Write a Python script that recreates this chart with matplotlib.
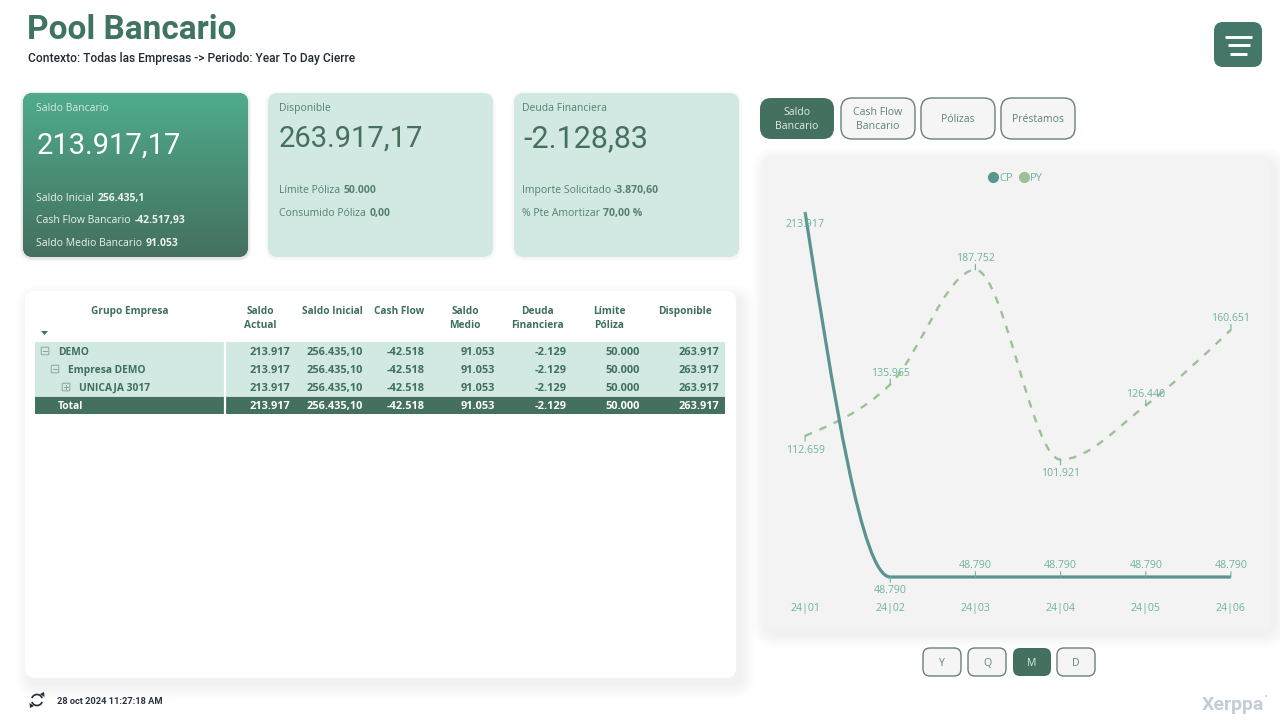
"""
plot.py
Recreates the "Pool Bancario" dashboard page.
The whole page is drawn on one axes in pixel coordinates, the line chart
has its own axes on top of the card.
"""

import numpy as np
import matplotlib
matplotlib.use("Agg")
import matplotlib.pyplot as plt
from matplotlib.colors import LinearSegmentedColormap
from matplotlib.lines import Line2D
from matplotlib.patches import Arc, Circle, FancyBboxPatch, PathPatch, Polygon
from matplotlib.path import Path

# ---------------------------------------------------------------- data
months = ["24|01", "24|02", "24|03", "24|04", "24|05", "24|06"]
cp_values = [213917, 48790, 48790, 48790, 48790, 48790]
py_values = [112659, 135965, 187752, 101921, 126440, 160651]

table_columns = [["Saldo", "Actual"], ["Saldo Inicial"], ["Cash Flow"], ["Saldo", "Medio"],
                 ["Deuda", "Financiera"], ["Límite", "Póliza"], ["Disponible"]]
table_rows = ["DEMO", "Empresa DEMO", "UNICAJA 3017", "Total"]
table_values = ["213.917", "256.435,10", "-42.518", "91.053", "-2.129", "50.000", "263.917"]

tabs = [["Saldo", "Bancario"], ["Cash Flow", "Bancario"], ["Pólizas"], ["Préstamos"]]
periods = ["Y", "Q", "M", "D"]

# ---------------------------------------------------------------- styles
DARK = "#44705F"
PALE = "#D2E8E2"
CP_COLOR = "#5A9490"
PY_COLOR = "#9DC097"
LABEL = "#6FB39E"
CARD_TEXT = "#55806F"
BODY = "Open Sans"
DIN = "Roboto"

plt.rcParams["font.family"] = [BODY, "DejaVu Sans"]

fig = plt.figure(figsize=(12.8, 7.2), dpi=100, facecolor="white")
page = fig.add_axes([0, 0, 1, 1])
page.set_xlim(0, 1280)
page.set_ylim(720, 0)
page.axis("off")


def box(x0, y0, x1, y1, r=10, fc="white", ec="none", lw=0, z=2):
    patch = FancyBboxPatch((x0 + r, y0 + r), x1 - x0 - 2 * r, y1 - y0 - 2 * r,
                           boxstyle=f"round,pad={r},rounding_size={r}",
                           fc=fc, ec=ec, lw=lw, zorder=z)
    page.add_patch(patch)
    return patch


def shadow(x0, y0, x1, y1, r, dx, dy, size, alpha):
    # soft shadow out of stacked transparent boxes
    for i in range(size, 0, -1):
        box(x0 + dx - i, y0 + dy - i, x1 + dx + i, y1 + dy + i, r=r + i,
            fc=(0, 0, 0, alpha), z=1)


def text(x, y, s, size, color, weight="normal", ha="left", family=BODY, z=5):
    # y is the middle of the digits, baseline keeps commas from moving the text
    base = y + size * 100 / 72 * 0.36
    return page.text(x, base, s, fontsize=size, color=color, fontweight=weight, ha=ha,
                     va="baseline", family=family, zorder=z)


def label_value(x, y, label, value, color, size=7.5):
    # plain label followed by the bold value
    first = text(x, y, label + " ", size, color)
    end = first.get_window_extent(fig.canvas.get_renderer()).x1
    text(end + 0.5, y, value, size, color, weight="bold")


def button(x0, y0, x1, y1, lines, active, size=7.6, r=8):
    if active:
        box(x0, y0, x1, y1, r=r, fc=DARK)
    else:
        box(x0, y0, x1, y1, r=r, fc="#F4F5F4", ec="#6B8079", lw=1.0)
    top = (y0 + y1) / 2 - 7 * (len(lines) - 1)
    for i, line in enumerate(lines):
        text((x0 + x1) / 2, top + 14 * i, line, size, "#DDEBE6" if active else "#5F8577", ha="center")


def monotone_path(xs, ys):
    # bezier path through the points, same shape as a monotone-x line
    xs = np.asarray(xs, float)
    ys = np.asarray(ys, float)
    steps = np.diff(xs)
    slopes = np.diff(ys) / steps
    tangents = np.zeros(len(xs))
    for i in range(1, len(xs) - 1):
        a, b = slopes[i - 1], slopes[i]
        p = (a * steps[i] + b * steps[i - 1]) / (steps[i - 1] + steps[i])
        tangents[i] = (np.sign(a) + np.sign(b)) * min(abs(a), abs(b), 0.5 * abs(p))
    tangents[0] = (3 * slopes[0] - tangents[1]) / 2
    tangents[-1] = (3 * slopes[-1] - tangents[-2]) / 2
    verts = [(xs[0], ys[0])]
    codes = [Path.MOVETO]
    for i in range(len(xs) - 1):
        h = steps[i] / 3
        verts += [(xs[i] + h, ys[i] + h * tangents[i]),
                  (xs[i + 1] - h, ys[i + 1] - h * tangents[i + 1]),
                  (xs[i + 1], ys[i + 1])]
        codes += [Path.CURVE4] * 3
    return Path(verts, codes)


# ---------------------------------------------------------------- header
text(27, 27, "Pool Bancario", 24, "#3F7463", weight="bold", family=DIN)
text(28, 58, "Contexto: Todas las Empresas -> Periodo: Year To Day Cierre", 8.65, "#1F2B33",
     weight="medium", family=DIN)

box(1214, 22, 1262, 67, r=9, fc="#44776A")
for half, yy in zip([13.5, 11, 8.7], [37, 45, 54]):
    page.plot([1238.5 - half, 1238.5 + half], [yy, yy], color="white", lw=2.1,
              solid_capstyle="butt", zorder=5)

# ---------------------------------------------------------------- KPI cards
shadow(23, 93, 248, 257, 10, 0, 1, 3, 0.035)
shadow(268, 93, 493, 257, 10, 0, 1, 3, 0.012)
shadow(514, 93, 739, 257, 10, 0, 1, 3, 0.012)

green_card = box(23, 93, 248, 257, fc=DARK)
gradient = LinearSegmentedColormap.from_list("card", ["#4FAB8C", "#44705F"])
image = page.imshow(np.linspace(0, 1, 256).reshape(-1, 1), cmap=gradient, aspect="auto",
                    extent=(23, 248, 257, 93), zorder=3)
image.set_clip_path(green_card)
page.set_xlim(0, 1280)
page.set_ylim(720, 0)

text(36.5, 107.5, "Saldo Bancario", 7.5, "#D5EBE3")
text(37, 143, "213.917,17", 21, "white", family=DIN)
label_value(36.5, 197, "Saldo Inicial", "256.435,1", "#EAF3EF")
label_value(36.5, 219.5, "Cash Flow Bancario", "-42.517,93", "#EAF3EF")
label_value(36.5, 242, "Saldo Medio Bancario", "91.053", "#EAF3EF")

box(268, 93, 493, 257, fc=PALE)
text(279, 107.5, "Disponible", 7.5, CARD_TEXT)
text(279, 136, "263.917,17", 21, "#44705F", family=DIN)
label_value(279, 189.5, "Límite Póliza", "50.000", CARD_TEXT)
label_value(279, 212.5, "Consumido Póliza", "0,00", CARD_TEXT)

box(514, 93, 739, 257, fc=PALE)
text(521.5, 107.5, "Deuda Financiera", 7.5, CARD_TEXT)
text(523, 136, "-2.128,83", 22, "#44705F", family=DIN)
label_value(521.5, 189.5, "Importe Solicitado", "-3.870,60", CARD_TEXT)
label_value(521.5, 212.5, "% Pte Amortizar", "70,00 %", CARD_TEXT)

# ---------------------------------------------------------------- table
shadow(25, 291, 736, 678, 10, 5, 7, 14, 0.0035)
box(25, 291, 736, 678, fc="white", z=2)

right_edges = [290, 363, 425, 495, 567, 640, 719]
header_centers = [260, 332, 399, 465, 537, 609, 685]
header_color = "#3F6F5E"
text(130, 310, "Grupo Empresa", 7.3, header_color, weight="bold", ha="center")
for center, lines in zip(header_centers, table_columns):
    for i, line in enumerate(lines):
        text(center, 310 + 14 * i, line, 7.3, header_color, weight="bold", ha="center")
page.add_patch(Polygon([(41, 331), (48, 331), (44.5, 335)], fc="#3F6F5E", zorder=5))

row_ys = [351, 369, 387, 405]
indents = [58, 68, 79, 58]
page.fill_between([35, 725], 342, 396, color=PALE, lw=0, zorder=3)
page.fill_between([35, 725], 396, 414, color=DARK, lw=0, zorder=3)
page.plot([225, 225], [342, 414], color="white", lw=1.6, zorder=4)
page.plot([35, 725], [395.6, 395.6], color="#E9F3F0", lw=0.6, zorder=4)
for name, yy, indent in zip(table_rows, row_ys, indents):
    color = "white" if name == "Total" else header_color
    text(indent, yy, name, 7.4, color, weight="bold")
    if name != "Total":
        bx = indent - 13
        page.add_patch(FancyBboxPatch((bx - 3.2, yy - 3.2), 6.4, 6.4, boxstyle="round,pad=0.6,rounding_size=1",
                                      fc="none", ec="#8AA69B", lw=0.7, zorder=5))
        page.plot([bx - 2, bx + 2], [yy, yy], color="#8AA69B", lw=0.7, zorder=5)
        if name == "UNICAJA 3017":
            page.plot([bx, bx], [yy - 2, yy + 2], color="#8AA69B", lw=0.7, zorder=5)
    for edge, value in zip(right_edges, table_values):
        text(edge, yy, value, 7.9, color, weight="bold", ha="right")

# ---------------------------------------------------------------- tabs and period buttons
tab_edges = [(760, 834), (841, 915), (921, 995), (1001, 1075)]
for i, ((x0, x1), label) in enumerate(zip(tab_edges, tabs)):
    button(x0, 98, x1, 139, label, i == 0, r=11)

period_edges = [(923, 961), (968, 1006), (1013, 1051), (1057, 1095)]
for (x0, x1), label in zip(period_edges, periods):
    button(x0, 648, x1, 676, [label], label == "M", r=7)

# ---------------------------------------------------------------- line chart
shadow(763, 155, 1271, 628, 10, 3, 6, 14, 0.003)
box(763, 155, 1271, 628, fc="#F3F3F3", z=2)

# axes covers the card, limits chosen so 24|01 sits at x=805 and one month is 85 px
chart = fig.add_axes([763 / 1280, 1 - 628 / 720, 508 / 1280, 473 / 720])
chart.patch.set_alpha(0)
chart.set_xlim(-42 / 85, 465 / 85)
chart.set_ylim(25713, 239740)
for side in chart.spines.values():
    side.set_visible(False)
chart.set_yticks([])
chart.set_xticks(range(len(months)), months)
chart.tick_params(axis="x", length=0, pad=-18, labelsize=7.6, labelcolor=LABEL)

positions = list(range(len(months)))
chart.add_patch(PathPatch(monotone_path(positions, py_values), fc="none", ec=PY_COLOR, lw=1.7,
                          ls=(0, (3.2, 3.4)), zorder=2))
chart.add_patch(PathPatch(monotone_path(positions, cp_values), fc="none", ec=CP_COLOR, lw=2.3,
                          capstyle="butt", zorder=3))

# labels above/below each point with a short leader, offsets in points
py_offsets = [-10.3, 8, 8, -10.3, 8, 8]
cp_offsets = [-8.7, -10, 8.3, 8.3, 8.3, 8.3]
for series, offsets in ((py_values, py_offsets), (cp_values, cp_offsets)):
    for xpos, value, off in zip(positions, series, offsets):
        chart.annotate("", xy=(xpos, value), xytext=(0, 3.8 if off > 0 else -3.8),
                       textcoords="offset points",
                       arrowprops=dict(arrowstyle="-", color=LABEL, lw=0.8, shrinkA=0, shrinkB=0))
        chart.annotate(f"{value:,}".replace(",", "."), xy=(xpos, value), xytext=(0, off),
                       textcoords="offset points", ha="center", va="center",
                       fontsize=7.6, color=LABEL, zorder=4)

handles = [Line2D([], [], ls="none", marker="o", ms=7, color=CP_COLOR, label="CP"),
           Line2D([], [], ls="none", marker="o", ms=7, color=PY_COLOR, label="PY")]
chart.legend(handles=handles, ncols=2, frameon=False, loc="center", bbox_to_anchor=(0.495, 0.95),
             fontsize=8, labelcolor=LABEL, handletextpad=-0.1, columnspacing=0.3, handlelength=1.3)

# ---------------------------------------------------------------- footer
page.add_patch(Arc((37, 700), 11, 11, theta1=200, theta2=340, color="#222B30", lw=1.2, zorder=5))
page.add_patch(Arc((37, 700), 11, 11, theta1=20, theta2=160, color="#222B30", lw=1.2, zorder=5))
page.add_patch(Polygon([(40, 694), (44.5, 697), (44, 692)], fc="#222B30", zorder=5))
page.add_patch(Polygon([(34, 706), (29.5, 703), (30, 708)], fc="#222B30", zorder=5))
text(57, 701, "28 oct 2024 11:27:18 AM", 6.7, "#2B3240", weight="bold", family=DIN)
text(1202, 702.5, "Xerppa", 14, "#C3CCD8", weight="bold", family=DIN)
page.add_patch(Circle((1266, 696), 1, fc="#C3CCD8", zorder=5))

fig.savefig("out.png", dpi=100, facecolor="white")
